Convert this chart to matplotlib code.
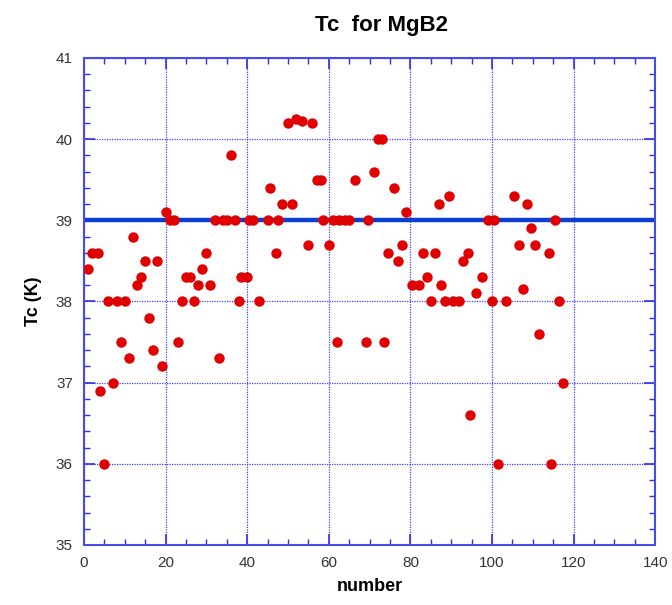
import matplotlib
matplotlib.use('Agg')
import matplotlib.pyplot as plt
from matplotlib.ticker import MultipleLocator

plt.rcParams['font.family'] = ['Liberation Sans', 'DejaVu Sans']

# measured Tc values (K) against sample number
number = [1, 2, 3.5, 4, 5, 6, 7, 8, 9, 10, 11, 12, 13, 14, 15, 16, 17, 18, 19, 20,
          21, 22, 23, 24, 25, 26, 27, 28, 29, 30, 31, 32, 33, 34, 35, 36, 37, 38, 38.5, 40,
          40.5, 41.5, 43, 45, 45.5, 47, 47.5, 48.5, 50, 51, 52, 53.5, 55, 56, 57, 58, 58.5, 60, 61, 62,
          62.5, 64, 65, 66.5, 69, 69.5, 71, 72, 73, 73.5, 74.5, 76, 77, 78, 79, 80.5, 82, 83, 84, 85,
          86, 87, 87.5, 88.5, 89.5, 90.5, 92, 93, 94, 94.5, 96, 97.5, 99, 100, 100.5, 101.5, 103.5, 105.5, 106.5, 107.5,
          108.5, 109.5, 110.5, 111.5, 114, 114.5, 115.5, 116.5, 117.5]
tc = [38.4, 38.6, 38.6, 36.9, 36.0, 38.0, 37.0, 38.0, 37.5, 38.0, 37.3, 38.8, 38.2, 38.3, 38.5, 37.8, 37.4, 38.5, 37.2, 39.1,
      39.0, 39.0, 37.5, 38.0, 38.3, 38.3, 38.0, 38.2, 38.4, 38.6, 38.2, 39.0, 37.3, 39.0, 39.0, 39.8, 39.0, 38.0, 38.3, 38.3,
      39.0, 39.0, 38.0, 39.0, 39.4, 38.6, 39.0, 39.2, 40.2, 39.2, 40.25, 40.22, 38.7, 40.2, 39.5, 39.5, 39.0, 38.7, 39.0, 37.5,
      39.0, 39.0, 39.0, 39.5, 37.5, 39.0, 39.6, 40.0, 40.0, 37.5, 38.6, 39.4, 38.5, 38.7, 39.1, 38.2, 38.2, 38.6, 38.3, 38.0,
      38.6, 39.2, 38.2, 38.0, 39.3, 38.0, 38.0, 38.5, 38.6, 36.6, 38.1, 38.3, 39.0, 38.0, 39.0, 36.0, 38.0, 39.3, 38.7, 38.15,
      39.2, 38.9, 38.7, 37.6, 38.6, 36.0, 39.0, 38.0, 37.0]

ref_tc = 39.0

fig = plt.figure(figsize=(6.72, 6.05), dpi=100)
ax = fig.add_axes([0.125, 0.0992, 0.85, 0.805])

ax.axhline(ref_tc, color='#0a3fd0', linewidth=3.2, zorder=2)
ax.plot(number, tc, 'o', color='#e00000', markersize=7.5, markeredgewidth=0, zorder=3)

ax.set_xlim(0, 140)
ax.set_ylim(35, 41)
ax.xaxis.set_major_locator(MultipleLocator(20))
ax.xaxis.set_minor_locator(MultipleLocator(5))
ax.yaxis.set_major_locator(MultipleLocator(1))
ax.yaxis.set_minor_locator(MultipleLocator(0.2))

ax.grid(True, which='major', color='#4040ff', linestyle=(0, (1, 1)), linewidth=0.9, zorder=1)
for s in ax.spines.values():
    s.set_color('#4a4ae8')
    s.set_linewidth(1.5)
ax.tick_params(which='both', direction='in', top=True, right=True, color='#3030e0',
               labelcolor='#333333', labelsize=11, pad=8)
ax.tick_params(which='major', length=8, width=1.2)
ax.tick_params(which='minor', length=4, width=1.0)

fig.text(0.567, 0.958, 'Tc  for MgB2', fontsize=16, fontweight='bold', ha='center', va='center')
ax.set_xlabel('number', fontsize=13, fontweight='bold', labelpad=6)
ax.set_ylabel('Tc (K)', fontsize=13, fontweight='bold', labelpad=10)

fig.savefig('out.png', dpi=100)
